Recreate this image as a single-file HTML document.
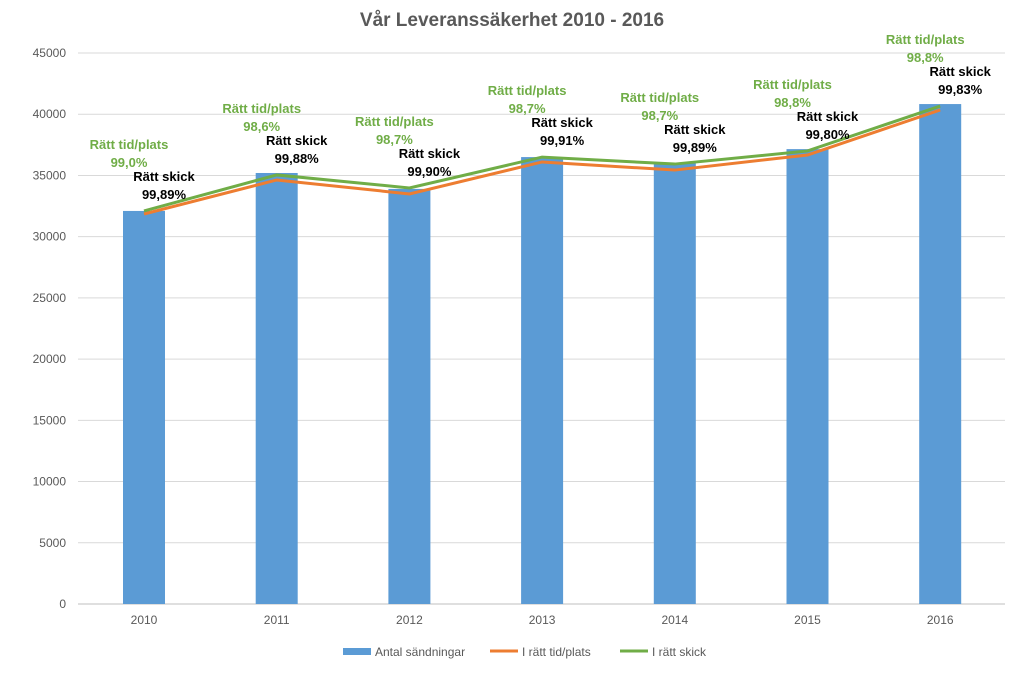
<!DOCTYPE html>
<html><head><meta charset="utf-8"><style>
body{margin:0;background:#fff;font-family:"Liberation Sans",Arial,sans-serif}
svg text{font-family:"Liberation Sans",Arial,sans-serif}
</style></head><body>
<svg id="c" width="1024" height="677" viewBox="0 0 1024 677">
<text x="512" y="26" text-anchor="middle" font-size="19" font-weight="bold" fill="#595959">Vår Leveranssäkerhet 2010 - 2016</text>
<g id="grid"></g><g id="bars"></g><g id="lines"></g><g id="labels"></g>
<g>
<rect x="343" y="648" width="28" height="7" fill="#5b9bd5"/>
<text x="375" y="656" font-size="12" fill="#595959">Antal sändningar</text>
<line x1="490" y1="651" x2="518" y2="651" stroke="#ed7d31" stroke-width="3"/>
<text x="522" y="656" font-size="12" fill="#595959">I rätt tid/plats</text>
<line x1="620" y1="651" x2="648" y2="651" stroke="#70ad47" stroke-width="3"/>
<text x="652" y="656" font-size="12" fill="#595959">I rätt skick</text>
</g>
</svg>
<script>
const years=["2010","2011","2012","2013","2014","2015","2016"];
const shipments=[32100,35200,33900,36500,36000,37150,40830];
const onTime=[31850,34630,33490,36100,35440,36670,40350];
const condition=[32100,35040,33980,36500,35930,37000,40670];
const onTimePct=["99,0%","98,6%","98,7%","98,7%","98,7%","98,8%","98,8%"];
const conditionPct=["99,89%","99,88%","99,90%","99,91%","99,89%","99,80%","99,83%"];
const yTicks=[0,5000,10000,15000,20000,25000,30000,35000,40000,45000];
const NS="http://www.w3.org/2000/svg";
const y=v=>604-v/45000*551;
const x=i=>144+i*132.7;
function mk(tag,attrs,parent){const e=document.createElementNS(NS,tag);for(const k in attrs)e.setAttribute(k,attrs[k]);parent.appendChild(e);return e;}
const grid=document.getElementById('grid');
yTicks.forEach(t=>{
 const l=mk('line',{x1:78,x2:1005,y1:y(t),y2:y(t),stroke:t===0?'#bfbfbf':'#d9d9d9','stroke-width':1},grid);
 
 
 const tx=mk('text',{x:66,y:y(t)+4,'text-anchor':'end','font-size':12,fill:'#595959'},grid);
 tx.textContent=t;
 
 
});
const bars=document.getElementById('bars');
years.forEach((yr,i)=>{
 const r=mk('rect',{x:x(i)-21,y:y(shipments[i]),width:42,height:604-y(shipments[i]),fill:'#5b9bd5'},bars);
 
 
 const t=mk('text',{x:x(i),y:624,'text-anchor':'middle','font-size':12,fill:'#595959'},bars);
 t.textContent=yr;
 
 
});
const lines=document.getElementById('lines');
const lo=mk('polyline',{points:onTime.map((v,i)=>x(i)+','+y(v)).join(' '),fill:'none',stroke:'#ed7d31','stroke-width':3},lines);


const lg=mk('polyline',{points:condition.map((v,i)=>x(i)+','+y(v)).join(' '),fill:'none',stroke:'#70ad47','stroke-width':3},lines);


const lab=document.getElementById('labels');
years.forEach((yr,i)=>{
 const py=y(condition[i]);
 [[ 'Rätt tid/plats',onTimePct[i],-15,py-62,'#70ad47','label-on-time'],['Rätt skick',conditionPct[i],20,py-30,'#000','label-condition']].forEach(a=>{
  const t1=mk('text',{x:x(i)+a[2],y:a[3],'text-anchor':'middle','font-size':13,'font-weight':'bold',fill:a[4]},lab);
  t1.textContent=a[0];
  
  
  const t2=mk('text',{x:x(i)+a[2],y:a[3]+18,'text-anchor':'middle','font-size':13,'font-weight':'bold',fill:a[4]},lab);
  t2.textContent=a[1];
  
  
 });
});
</script>
</body></html>
